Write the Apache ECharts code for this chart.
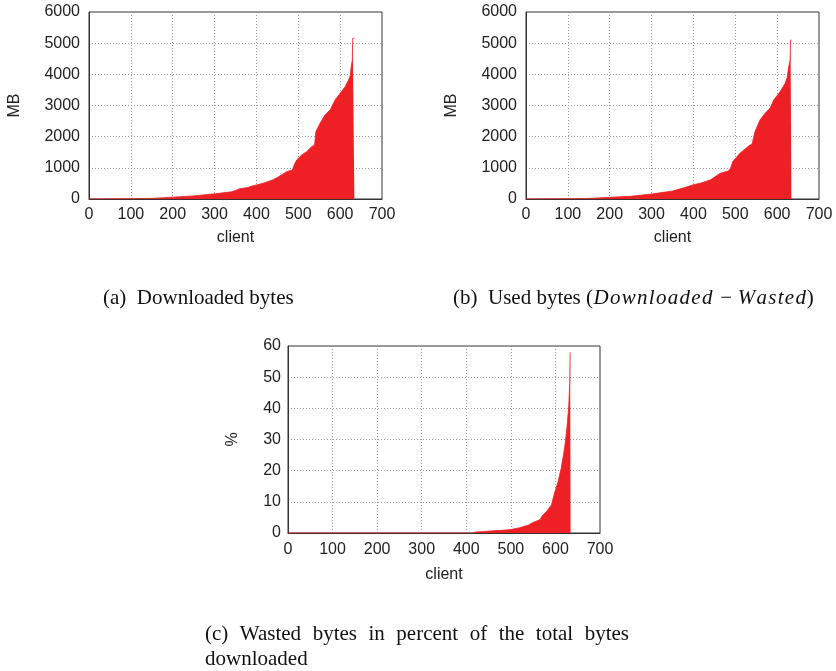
<!DOCTYPE html>
<html>
<head>
<meta charset="utf-8">
<script src="https://cdn.jsdelivr.net/npm/echarts@6/dist/echarts.min.js"></script>
<style>
html,body{margin:0;padding:0;background:#fff;}
#chart{width:836px;height:671px;}
</style>
</head>
<body>
<div id="chart"></div>
<script>
// ---- data ----
const xTickLabels = ['0','100','200','300','400','500','600','700'];
const yTicksMB = [0,1000,2000,3000,4000,5000,6000];
const yTicksPct = [0,10,20,30,40,50,60];

const clientsA = [0,100,150,200,250,300,340,350,360,380,390,400,420,440,456,472,486,490,496,508,520,532,539,542,552,564,576,588,600,612,620,624,627,629,630,634];
const downloadedMB = [0,10,20,60,100,165,230,270,330,370,420,450,520,620,738,877,930,1090,1250,1410,1520,1680,1730,2160,2430,2700,2855,3180,3390,3600,3820,3950,4300,4450,5160,5160];

const clientsB = [0,100,150,200,250,300,350,380,400,416,440,464,483,488,494,511,535,540,547,559,571,583,592,607,619,624,627,631,632,634];
const usedMB = [0,8,18,55,85,160,255,370,460,503,610,824,900,960,1200,1465,1730,1760,2160,2535,2750,2910,3180,3440,3710,3900,4190,4460,5100,5100];

const clientsC = [0,415,420,440,460,480,500,520,540,550,566,570,580,591,598,606,613,621,626,630,632,633,634];
const wastedPct = [0,0,0.3,0.5,0.7,0.85,1.1,1.7,2.6,3.4,4.3,5.5,6.9,9.0,12.8,16.5,20.8,27.7,34,41,48,58,58];

const captionA = '(a)  Downloaded bytes';
const captionBPrefix = '(b)  Used bytes (';
const captionBMath1 = 'Downloaded';
const captionBMath2 = 'Wasted';
const captionC1 = ['(c)', 'Wasted', 'bytes', 'in', 'percent', 'of', 'the', 'total', 'bytes'];
const captionC2 = 'downloaded';

// ---- build ----
const RED = '#ee2026';
const SANS = "'Liberation Sans', Arial, sans-serif";
const SERIF = "'Liberation Serif', 'Times New Roman', serif";
const CAP_SIZE = 21;

function pairs(xs, ys){ return xs.map((x,i)=>[x, ys[i]]); }

const grids = [
  {left:89, top:12, width:293, height:187},
  {left:526, top:12, width:293, height:187},
  {left:288, top:346, width:312, height:187}
].map(g => Object.assign({show:true, borderColor:'#333', borderWidth:1, backgroundColor:'transparent'}, g));

function xAxis(gi){
  return {
    type:'value', gridIndex:gi, min:0, max:700, interval:100,
    name:'client', nameLocation:'middle', nameGap: gi===2 ? 34 : 31,
    nameTextStyle:{fontFamily:SANS, fontSize:16, color:'#222'},
    axisLine:{show:true, lineStyle:{color:'#333', width:1}},
    axisTick:{show:false},
    axisLabel:{fontFamily:SANS, fontSize:16, color:'#222', margin: gi===2 ? 9 : 8,
      formatter:(v)=>xTickLabels[Math.round(v/100)]},
    splitLine:{show:true, lineStyle:{color:'#9a9a9a', type:[1,2], width:1}}
  };
}
function yAxis(gi, ticks, name, gap, margin){
  const max = ticks[ticks.length-1];
  return {
    type:'value', gridIndex:gi, min:0, max:max, interval:ticks[1]-ticks[0],
    name:name, nameLocation:'middle', nameGap:gap,
    nameTextStyle:{fontFamily:SANS, fontSize:16, color:'#222'},
    axisLine:{show:true, lineStyle:{color:'#333', width:1}},
    axisTick:{show:false},
    axisLabel:{fontFamily:SANS, fontSize:16, color:'#222', margin:margin,
      formatter:(v)=>String(v)},
    splitLine:{show:true, lineStyle:{color:'#9a9a9a', type:[1,2], width:1}}
  };
}
function areaSeries(gi, data){
  return {
    type:'line', xAxisIndex:gi, yAxisIndex:gi, data:data,
    symbol:'none', smooth:false, silent:true, animation:false,
    lineStyle:{color:RED, width:0.8},
    areaStyle:{color:RED, opacity:1}
  };
}

// captions
const capFont = CAP_SIZE + 'px ' + SERIF;
const ctx = document.createElement('canvas').getContext('2d');
ctx.font = capFont;

// justified first line of caption (c)
const cLeft = 205, cRight = 629;
const wWidths = captionC1.map(w => ctx.measureText(w).width);
const gap = (cRight - cLeft - wWidths.reduce((a,b)=>a+b,0)) / (captionC1.length - 1);
const cWords = [];
let cx = cLeft;
captionC1.forEach((w,i)=>{
  cWords.push({type:'text', x:cx, y:634, style:{text:w, font:capFont, fill:'#111', verticalAlign:'middle'}});
  cx += wWidths[i] + gap;
});

// math-italic part of caption (b): per-letter tokens with extra spacing
const mathTok = s => s.split('').map(ch => '{i|' + ch + '}').join('');
const captionBText = captionBPrefix + mathTok(captionBMath1) + '{m|−}' + mathTok(captionBMath2) + ')';

const option = {
  animation:false,
  backgroundColor:'#fff',
  grid: grids,
  xAxis: [xAxis(0), xAxis(1), xAxis(2)],
  yAxis: [yAxis(0, yTicksMB, 'MB', 66, 9), yAxis(1, yTicksMB, 'MB', 66, 9), yAxis(2, yTicksPct, '%', 47, 7)],
  series: [
    areaSeries(0, pairs(clientsA, downloadedMB)),
    areaSeries(1, pairs(clientsB, usedMB)),
    areaSeries(2, pairs(clientsC, wastedPct))
  ],
  graphic: [
    {type:'text', x:103, y:298, style:{text:captionA, font:capFont, fill:'#111', verticalAlign:'middle'}},
    {type:'text', x:453, y:298, style:{
      text:captionBText,
      font:capFont, fill:'#111', verticalAlign:'middle',
      rich:{
        i:{fontFamily:SERIF, fontSize:CAP_SIZE, fontStyle:'italic', fill:'#111', padding:[0,0.8,0,0.5]},
        m:{fontFamily:SERIF, fontSize:CAP_SIZE, fill:'#111', padding:[0,5,0,7]}
      }
    }},
    ...cWords,
    {type:'text', x:cLeft, y:659, style:{text:captionC2, font:capFont, fill:'#111', verticalAlign:'middle'}}
  ]
};

const chart = echarts.init(document.getElementById('chart'), null, {renderer:'canvas'});
chart.setOption(option);
</script>
</body>
</html>
